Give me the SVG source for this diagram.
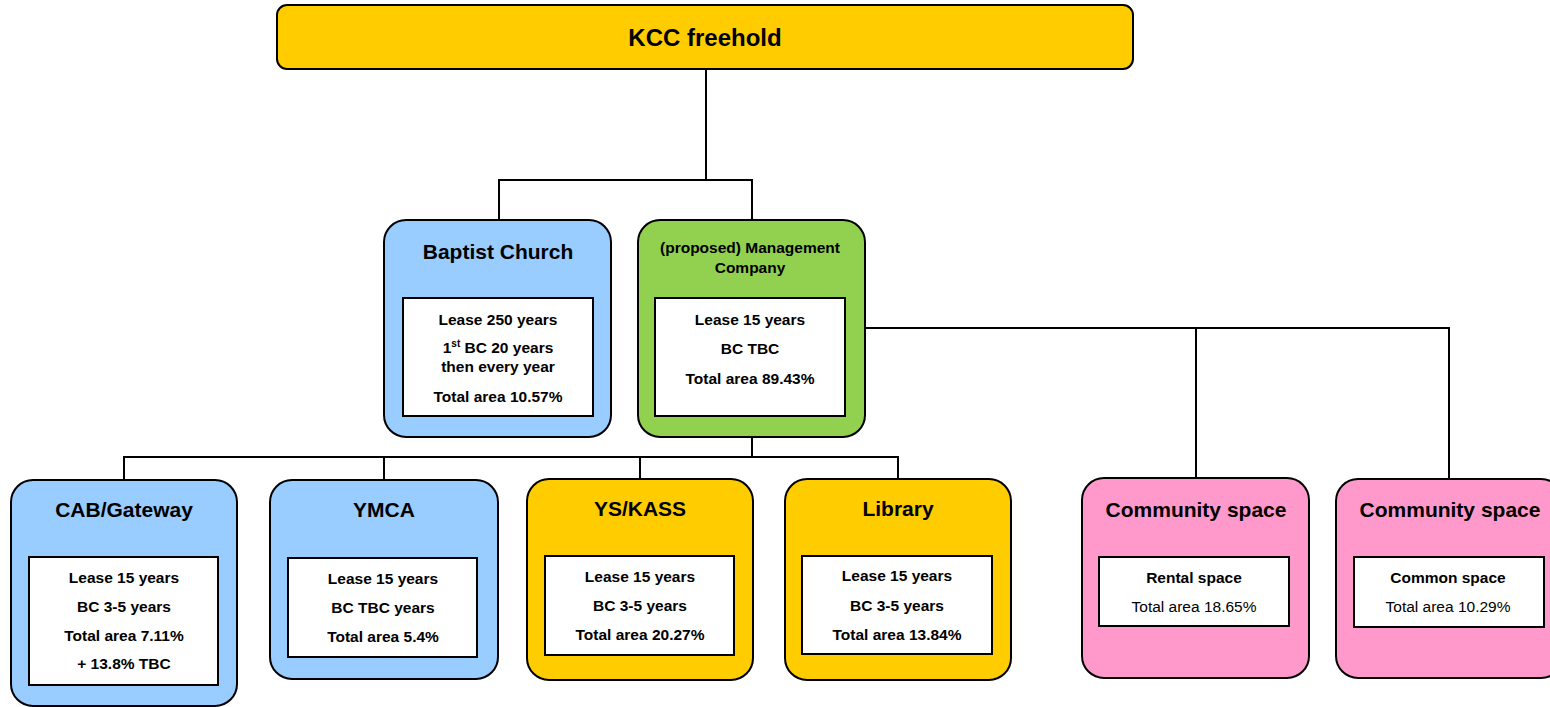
<svg xmlns="http://www.w3.org/2000/svg" width="1550" height="707" viewBox="0 0 1550 707">
<style>
text{font-family:"Liberation Sans",Arial,sans-serif;fill:#000;text-anchor:middle}
.node{stroke:#000;stroke-width:2}
.inner{fill:#fff;stroke:#000;stroke-width:2}
.t{font-size:21px;font-weight:bold}
.b{font-size:15.5px;font-weight:bold}
.n{font-size:15.5px}
.y{fill:#FFCC00}.bl{fill:#99CCFF}.g{fill:#92D050}.p{fill:#FF99CC}
#connectors path{fill:none;stroke:#000;stroke-width:2}
</style>
<rect width="1550" height="707" fill="#fff"/>
<g id="connectors">
<path d="M706 69 V180 M499 220 V180 H752 V220"/>
<path d="M865 328 H1449 V479 M1196 328 V478"/>
<path d="M752 437 V457 M124 480 V457 H898 V479 M384 457 V480 M640 457 V479"/>
</g>
<g id="kcc">
<rect class="node y" x="277" y="5" width="856" height="64" rx="10"/>
<text x="705" y="46" style="font-size:24px;font-weight:bold">KCC freehold</text>
</g>
<g id="baptist">
<rect class="node bl" x="384" y="220" width="227" height="217" rx="22"/>
<text class="t" x="498" y="259">Baptist Church</text>
<rect class="inner" x="403" y="298" width="190" height="118"/>
<text class="b" x="498" y="325">Lease 250 years</text>
<text class="b" x="498" y="353">1<tspan font-size="10" dy="-6">st</tspan><tspan dy="6"> BC 20 years</tspan></text>
<text class="b" x="498" y="372">then every year</text>
<text class="b" x="498" y="402">Total area 10.57%</text>
</g>
<g id="management">
<rect class="node g" x="638" y="220" width="227" height="217" rx="22"/>
<text class="b" x="750" y="253">(proposed) Management</text>
<text class="b" x="750" y="273">Company</text>
<rect class="inner" x="655" y="298" width="190" height="118"/>
<text class="b" x="750" y="325">Lease 15 years</text>
<text class="b" x="750" y="354">BC TBC</text>
<text class="b" x="750" y="384">Total area 89.43%</text>
</g>
<g id="cab">
<rect class="node bl" x="11" y="480" width="226" height="226" rx="22"/>
<text class="t" x="124" y="517">CAB/Gateway</text>
<rect class="inner" x="29" y="557" width="189" height="128"/>
<text class="b" x="124" y="583">Lease 15 years</text>
<text class="b" x="124" y="612">BC 3-5 years</text>
<text class="b" x="124" y="641">Total area 7.11%</text>
<text class="b" x="124" y="669">+ 13.8% TBC</text>
</g>
<g id="ymca">
<rect class="node bl" x="270" y="480" width="228" height="199" rx="22"/>
<text class="t" x="384" y="517">YMCA</text>
<rect class="inner" x="288" y="558" width="189" height="99"/>
<text class="b" x="383" y="584">Lease 15 years</text>
<text class="b" x="383" y="613">BC TBC years</text>
<text class="b" x="383" y="642">Total area 5.4%</text>
</g>
<g id="yskass">
<rect class="node y" x="527" y="479" width="226" height="201" rx="22"/>
<text class="t" x="640" y="516">YS/KASS</text>
<rect class="inner" x="545" y="556" width="189" height="99"/>
<text class="b" x="640" y="582">Lease 15 years</text>
<text class="b" x="640" y="611">BC 3-5 years</text>
<text class="b" x="640" y="640">Total area 20.27%</text>
</g>
<g id="library">
<rect class="node y" x="785" y="479" width="226" height="201" rx="22"/>
<text class="t" x="898" y="516">Library</text>
<rect class="inner" x="802" y="556" width="190" height="98"/>
<text class="b" x="897" y="581">Lease 15 years</text>
<text class="b" x="897" y="611">BC 3-5 years</text>
<text class="b" x="897" y="640">Total area 13.84%</text>
</g>
<g id="community1">
<rect class="node p" x="1082" y="478" width="227" height="200" rx="22"/>
<text class="t" x="1196" y="517">Community space</text>
<rect class="inner" x="1099" y="557" width="190" height="69"/>
<text class="b" x="1194" y="583">Rental space</text>
<text class="n" x="1194" y="612">Total area 18.65%</text>
</g>
<g id="community2">
<rect class="node p" x="1336" y="479" width="227" height="199" rx="22"/>
<text class="t" x="1450" y="517">Community space</text>
<rect class="inner" x="1354" y="557" width="190" height="70"/>
<text class="b" x="1448" y="583">Common space</text>
<text class="n" x="1448" y="612">Total area 10.29%</text>
</g>
</svg>
